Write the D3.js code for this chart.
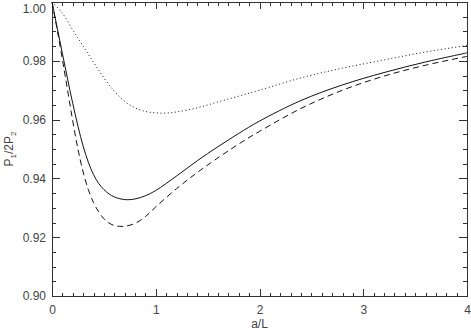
<!DOCTYPE html>
<html>
<head>
<meta charset="utf-8">
<script src="https://cdn.jsdelivr.net/npm/d3@7"></script>
<style>
  body { margin: 0; background: #fff; }
  svg { display: block; }
  .axis path, .axis line { stroke: #333; shape-rendering: crispEdges; }
  .axis text { font-family: "Liberation Sans", Arial, sans-serif; font-size: 12px; fill: #444; }
</style>
</head>
<body>
<div id="chart"></div>
<script>
// a/L sample points
var aSolid = [0, 0.05, 0.1, 0.15, 0.2, 0.25, 0.3, 0.35, 0.4, 0.45, 0.5, 0.55, 0.6, 0.7, 0.8, 0.9, 1.0, 1.2, 1.4, 1.6, 1.8, 2.0, 2.4, 2.8, 3.2, 3.6, 4.0];
var pSolid = [1.000, 0.9912, 0.9825, 0.9738, 0.9655, 0.9578, 0.9510, 0.9455, 0.9413, 0.9383, 0.9362, 0.9347, 0.9337, 0.9328, 0.9330, 0.9341, 0.9359, 0.9408, 0.9460, 0.9508, 0.9553, 0.9595, 0.9665, 0.9718, 0.9760, 0.9796, 0.9827];

var aDashed = [0, 0.05, 0.1, 0.15, 0.2, 0.25, 0.3, 0.35, 0.4, 0.45, 0.5, 0.55, 0.6, 0.65, 0.7, 0.8, 0.9, 1.0, 1.2, 1.4, 1.6, 1.8, 2.0, 2.4, 2.8, 3.2, 3.6, 4.0];
var pDashed = [1.000, 0.9905, 0.9805, 0.9700, 0.9595, 0.9500, 0.9422, 0.9362, 0.9318, 0.9286, 0.9263, 0.9248, 0.9240, 0.9237, 0.9237, 0.9247, 0.9270, 0.9303, 0.9365, 0.9420, 0.9470, 0.9517, 0.9560, 0.9638, 0.9700, 0.9748, 0.9785, 0.9815];

var aDotted = [0, 0.1, 0.2, 0.3, 0.4, 0.5, 0.6, 0.7, 0.8, 0.9, 1.0, 1.1, 1.2, 1.4, 1.6, 1.8, 2.0, 2.4, 2.8, 3.2, 3.6, 4.0];
var pDotted = [1.000, 0.9962, 0.9905, 0.9850, 0.9795, 0.9742, 0.9697, 0.9662, 0.9640, 0.9628, 0.9623, 0.9622, 0.9626, 0.9640, 0.9660, 0.9680, 0.9700, 0.9742, 0.9775, 0.9803, 0.9830, 0.9852];

var xTicks = [0, 1, 2, 3, 4];
var yTicks = [0.90, 0.92, 0.94, 0.96, 0.98, 1.00];

var width = 471, height = 332;
var mLeft = 52, mRight = 467, mTop = 2, mBottom = 296;

var svg = d3.select('#chart').append('svg')
  .attr('width', width)
  .attr('height', height);

var x = d3.scaleLinear().domain([0, 4]).range([mLeft, mRight]);
var y = d3.scaleLinear().domain([0.90, 1.00]).range([mBottom, mTop]);

var xMinor = d3.range(0, 41).map(function(i){ return i / 10; });
var yMinor = d3.range(0, 21).map(function(i){ return 0.90 + i * 0.005; });

// bottom axis, ticks pointing in
svg.append('g').attr('class', 'axis')
  .attr('transform', 'translate(0,' + mBottom + ')')
  .call(d3.axisBottom(x).tickValues(xTicks).tickSizeInner(-7).tickSizeOuter(0).tickPadding(9).tickFormat(d3.format('d')));
svg.append('g').attr('class', 'axis')
  .attr('transform', 'translate(0,' + mBottom + ')')
  .call(d3.axisBottom(x).tickValues(xMinor).tickSize(-3.5).tickFormat(''))
  .select('.domain').remove();

// top axis
svg.append('g').attr('class', 'axis')
  .attr('transform', 'translate(0,' + mTop + ')')
  .call(d3.axisTop(x).tickValues(xTicks).tickSizeInner(-7).tickSizeOuter(0).tickFormat(''));
svg.append('g').attr('class', 'axis')
  .attr('transform', 'translate(0,' + mTop + ')')
  .call(d3.axisTop(x).tickValues(xMinor).tickSize(-3.5).tickFormat(''))
  .select('.domain').remove();

// left axis
var yAxisG = svg.append('g').attr('class', 'axis')
  .attr('transform', 'translate(' + mLeft + ',0)')
  .call(d3.axisLeft(y).tickValues(yTicks).tickSizeInner(-8).tickSizeOuter(0).tickPadding(6).tickFormat(d3.format('.2f')));
// keep the top label inside the picture
yAxisG.selectAll('.tick text').filter(function(d){ return d === 1.00; }).attr('dy', '0.85em');
svg.append('g').attr('class', 'axis')
  .attr('transform', 'translate(' + mLeft + ',0)')
  .call(d3.axisLeft(y).tickValues(yMinor).tickSize(-4).tickFormat(''))
  .select('.domain').remove();

// right axis
svg.append('g').attr('class', 'axis')
  .attr('transform', 'translate(' + mRight + ',0)')
  .call(d3.axisRight(y).tickValues(yTicks).tickSizeInner(-8).tickSizeOuter(0).tickFormat(''));
svg.append('g').attr('class', 'axis')
  .attr('transform', 'translate(' + mRight + ',0)')
  .call(d3.axisRight(y).tickValues(yMinor).tickSize(-4).tickFormat(''))
  .select('.domain').remove();

// curves
var line = d3.line()
  .x(function(d){ return x(d[0]); })
  .y(function(d){ return y(d[1]); })
  .curve(d3.curveCatmullRom.alpha(0.5));

function pairs(a, p) { return a.map(function(v, i){ return [v, p[i]]; }); }

svg.append('path').datum(pairs(aSolid, pSolid))
  .attr('d', line).attr('fill', 'none').attr('stroke', '#111').attr('stroke-width', 1);
svg.append('path').datum(pairs(aDashed, pDashed))
  .attr('d', line).attr('fill', 'none').attr('stroke', '#111').attr('stroke-width', 1)
  .attr('stroke-dasharray', '6,4');
svg.append('path').datum(pairs(aDotted, pDotted))
  .attr('d', line).attr('fill', 'none').attr('stroke', '#111').attr('stroke-width', 1)
  .attr('stroke-dasharray', '1,2.6');

// axis titles
svg.append('text')
  .attr('x', (mLeft + mRight) / 2).attr('y', 328)
  .attr('text-anchor', 'middle')
  .style('font-family', '"Liberation Sans", Arial, sans-serif').style('font-size', '12px').style('fill', '#444')
  .text('a/L');

var yl = svg.append('text')
  .attr('transform', 'translate(13,' + ((mTop + mBottom) / 2) + ') rotate(-90)')
  .attr('text-anchor', 'middle')
  .style('font-family', '"Liberation Sans", Arial, sans-serif').style('font-size', '12px').style('fill', '#444');
yl.append('tspan').text('P');
yl.append('tspan').attr('dy', 3).style('font-size', '8px').text('1');
yl.append('tspan').attr('dy', -3).text('/2P');
yl.append('tspan').attr('dy', 3).style('font-size', '8px').text('2');
</script>
</body>
</html>
